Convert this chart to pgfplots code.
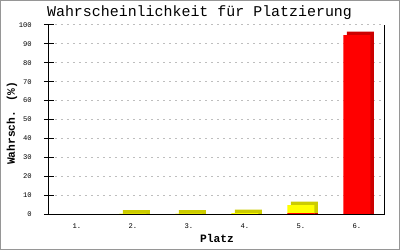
\documentclass[border=0pt]{standalone}
\usepackage{pgfplots}
\pgfplotsset{compat=1.18}
\usepackage{fontspec}
\setmainfont{Liberation Mono}
\definecolor{fy}{RGB}{255,255,0}
\definecolor{dy}{RGB}{204,204,0}
\definecolor{fr}{RGB}{255,0,0}
\definecolor{dr}{RGB}{204,0,0}
\definecolor{gridc}{RGB}{190,190,190}
\definecolor{framec}{RGB}{150,150,150}
\begin{document}
\begin{tikzpicture}
\begin{axis}[
  name=main,
  scale only axis, width=336bp, height=189bp,
  xmin=0.5, xmax=6.5, ymin=0, ymax=100,
  clip=false,
  axis x line*=bottom, axis y line*=left,
  axis line style={line width=1bp, -, black},
  ybar, bar width=27bp,
  xtick={1,2,3,4,5,6}, xticklabels={1.,2.,3.,4.,5.,6.},
  xtick style={draw=none},
  ytick={0,10,...,100},
  ytick align=center, major tick length=10bp,
  ytick style={line width=1bp, black},
  ymajorgrids, grid style={gridc, line width=1bp, dash pattern=on 2bp off 4bp},
  /pgf/number format/assume math mode=true,
  yticklabel style={font=\fontsize{7.2}{8}\selectfont, anchor=east, inner sep=0pt, xshift=-12bp},
  xticklabel style={font=\fontsize{7.2}{8}\selectfont, anchor=center, inner sep=0pt, yshift=-2bp},
  title={Wahrscheinlichkeit für Platzierung},
  title style={at={(axis description cs:0.448,1.032)}, anchor=center, inner sep=0pt, font=\fontsize{15}{16}\selectfont},
  xlabel={Platz},
  xlabel style={at={(axis description cs:0.5,-0.132)}, anchor=center, inner sep=0pt, font=\bfseries\fontsize{11.3}{12}\selectfont},
  ylabel={Wahrsch. (\%)},
  ylabel style={at={(axis description cs:-0.110,0.48)}, anchor=center, inner sep=0pt, font=\bfseries\fontsize{11.3}{12}\selectfont},
]
% depth (3D) faces
\addplot[fill=dy, draw=none, bar shift=3.5bp] coordinates {(2,2.05) (3,2.05) (4,2.35) (5,6.6)};
\addplot[fill=dr, draw=none, bar shift=3.5bp] coordinates {(5,0.5) (6,96.55)};
% front faces
\addplot[fill=fy, draw=none, bar shift=0bp] coordinates {(2,0.2) (3,0.2) (4,0.5) (5,4.75)};
\addplot[fill=fr, draw=none, bar shift=0bp] coordinates {(5,0.5) (6,94.7)};
\draw[line width=1bp, black] (rel axis cs:1,0) -- (rel axis cs:1,1);
\draw[line width=1bp, black] (rel axis cs:0,0) -- (rel axis cs:1,0);
\end{axis}
\pgfresetboundingbox
\path[use as bounding box] (main.south west) ++(-49bp,-36bp) rectangle ++(400bp,250bp);
\draw[line width=1bp, framec] (main.south west) ++(-48.5bp,-35.5bp) rectangle ++(399bp,249bp);
\end{tikzpicture}
\end{document}
